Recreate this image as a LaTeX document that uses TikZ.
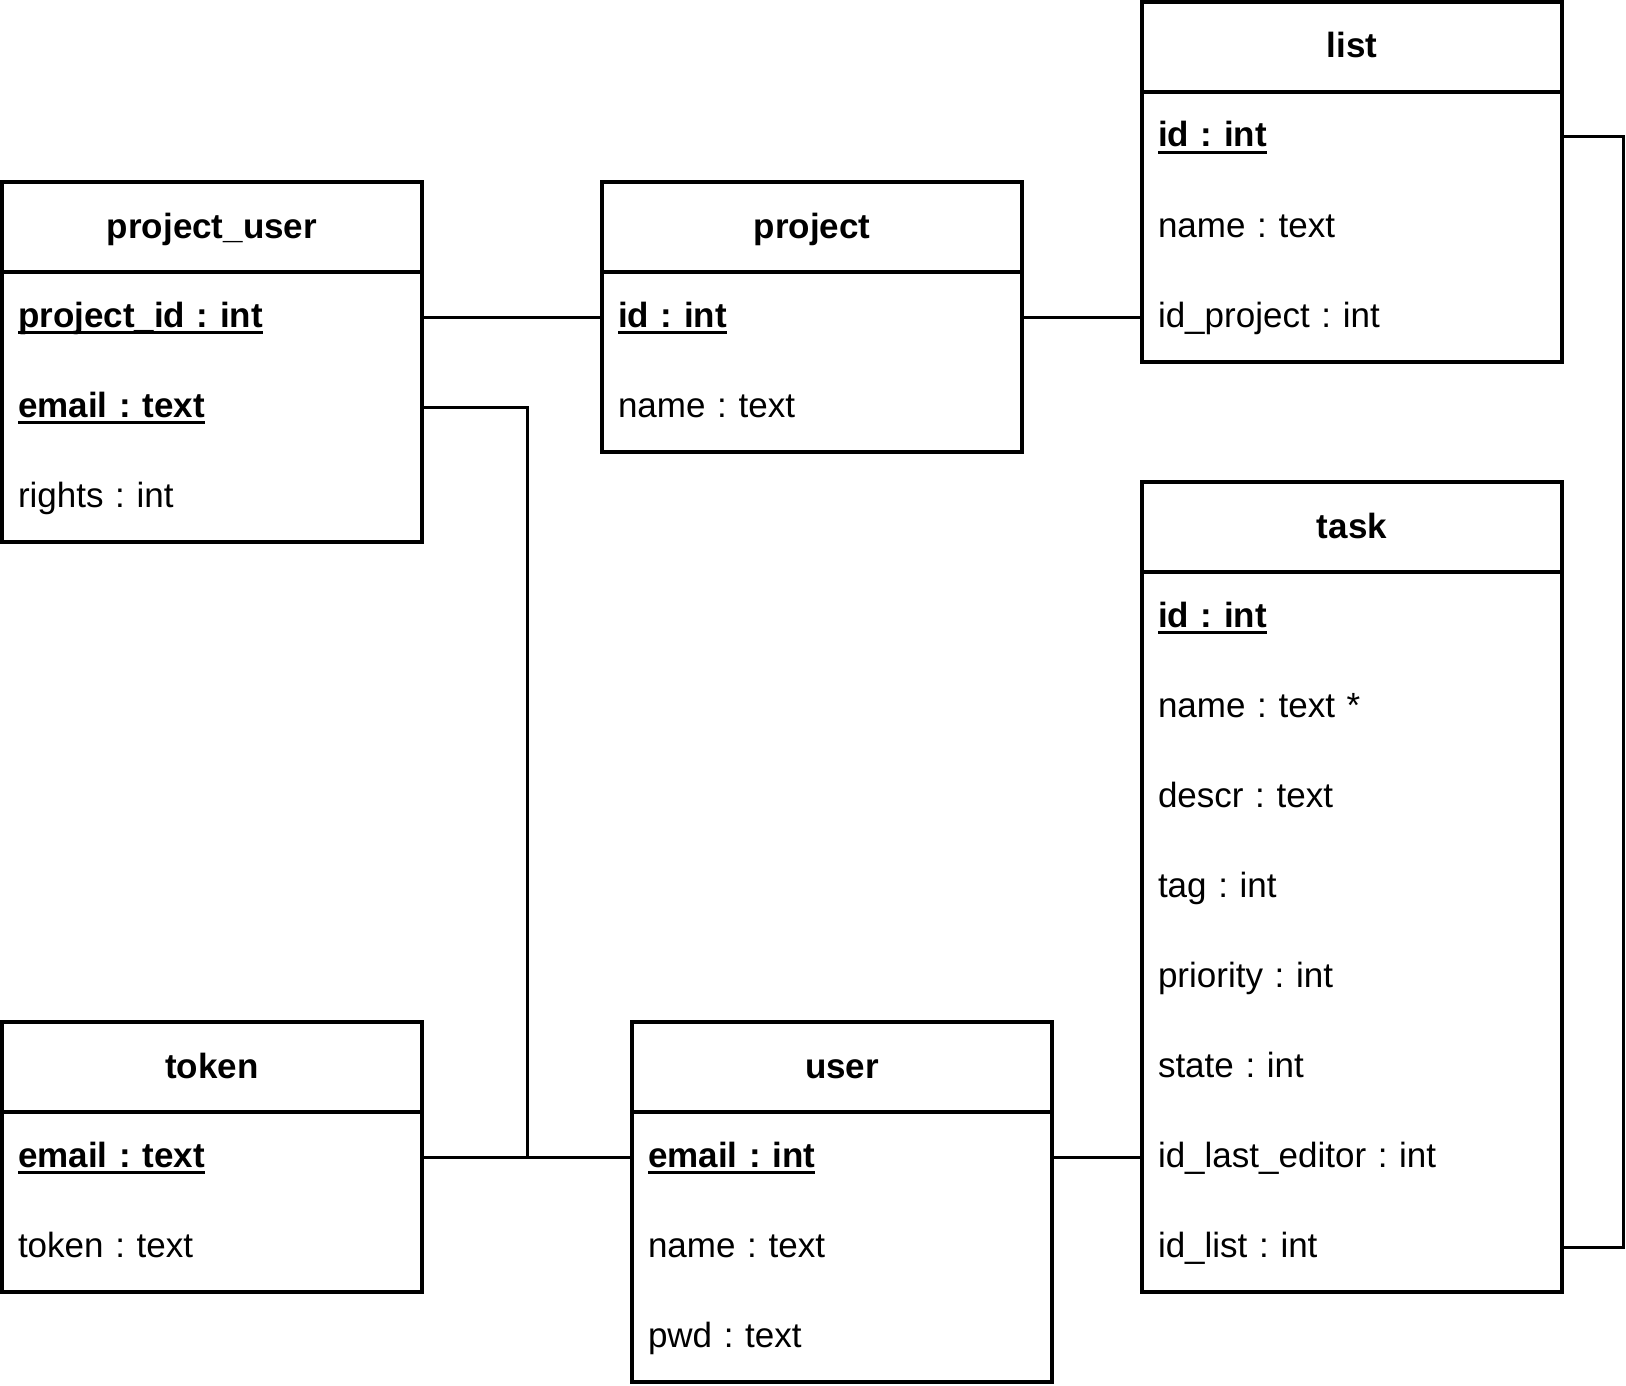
\documentclass[tikz,border=0pt]{standalone}
\usepackage{fontspec}
\setmainfont{Liberation Sans}
\frenchspacing
\newcommand\keyfld[1]{\bfseries\setbox0\hbox{#1}\rlap{\rule[-7pt]{\wd0}{3pt}}\box0}
\tikzset{
  ent/.style={draw, line width=3.2pt, anchor=north west, minimum width=420pt, minimum height=90pt,
    inner sep=0pt, outer sep=0pt, font=\fontsize{35}{40}\selectfont\bfseries, text height=26pt, text depth=4pt},
  fld/.style={anchor=north west, text width=388pt, minimum height=90pt, inner xsep=16pt, inner ysep=0pt,
    outer sep=0pt, font=\fontsize{35}{40}\selectfont, text height=26pt, text depth=6pt, align=left},
  body/.style={line width=3.2pt},
  link/.style={line width=3pt},
}
\begin{document}
\begin{tikzpicture}[x=1pt,y=-1pt]
\fill[white] (0,0) rectangle (1626,1386);
\useasboundingbox (0,0) rectangle (1626,1386);

% project_user
\node[ent] (pu) at (2,182) {project\_user};
\node[fld] (pu1) at (pu.south west) {\keyfld{project\_id : int}};
\node[fld] (pu2) at (pu1.south west) {\keyfld{email : text}};
\node[fld] (pu3) at (pu2.south west) {rights : int};
\draw[body] (pu.north west) rectangle (pu3.south east);

% project
\node[ent] (pr) at (602,182) {project};
\node[fld] (pr1) at (pr.south west) {\keyfld{id : int}};
\node[fld] (pr2) at (pr1.south west) {name : text};
\draw[body] (pr.north west) rectangle (pr2.south east);

% list
\node[ent] (li) at (1142,2) {list};
\node[fld] (li1) at (li.south west) {\keyfld{id : int}};
\node[fld] (li2) at (li1.south west) {name : text};
\node[fld] (li3) at (li2.south west) {id\_project : int};
\draw[body] (li.north west) rectangle (li3.south east);

% task
\node[ent] (ta) at (1142,482) {task};
\node[fld] (ta1) at (ta.south west) {\keyfld{id : int}};
\node[fld] (ta2) at (ta1.south west) {name : text *};
\node[fld] (ta3) at (ta2.south west) {descr : text};
\node[fld] (ta4) at (ta3.south west) {tag : int};
\node[fld] (ta5) at (ta4.south west) {priority : int};
\node[fld] (ta6) at (ta5.south west) {state : int};
\node[fld] (ta7) at (ta6.south west) {id\_last\_editor : int};
\node[fld] (ta8) at (ta7.south west) {id\_list : int};
\draw[body] (ta.north west) rectangle (ta8.south east);

% token
\node[ent] (to) at (2,1022) {token};
\node[fld] (to1) at (to.south west) {\keyfld{email : text}};
\node[fld] (to2) at (to1.south west) {token : text};
\draw[body] (to.north west) rectangle (to2.south east);

% user
\node[ent] (us) at (632,1022) {user};
\node[fld] (us1) at (us.south west) {\keyfld{email : int}};
\node[fld] (us2) at (us1.south west) {name : text};
\node[fld] (us3) at (us2.south west) {pwd : text};
\draw[body] (us.north west) rectangle (us3.south east);

% connectors
\coordinate (rr) at (1623,0);
\coordinate (mm) at (527,0);
\draw[link] (pu1.east) -- (pr1.west);
\draw[link] (pr1.east) -- (li3.west);
\draw[link] (li1.east) -- (li1.east -| rr) -- (ta8.east -| rr) -- (ta8.east);
\draw[link] (pu2.east) -- (pu2.east -| mm) -- (us1.west -| mm) -- (us1.west);
\draw[link] (to1.east) -- (us1.west);
\draw[link] (us1.east) -- (ta7.west);
\end{tikzpicture}
\end{document}
